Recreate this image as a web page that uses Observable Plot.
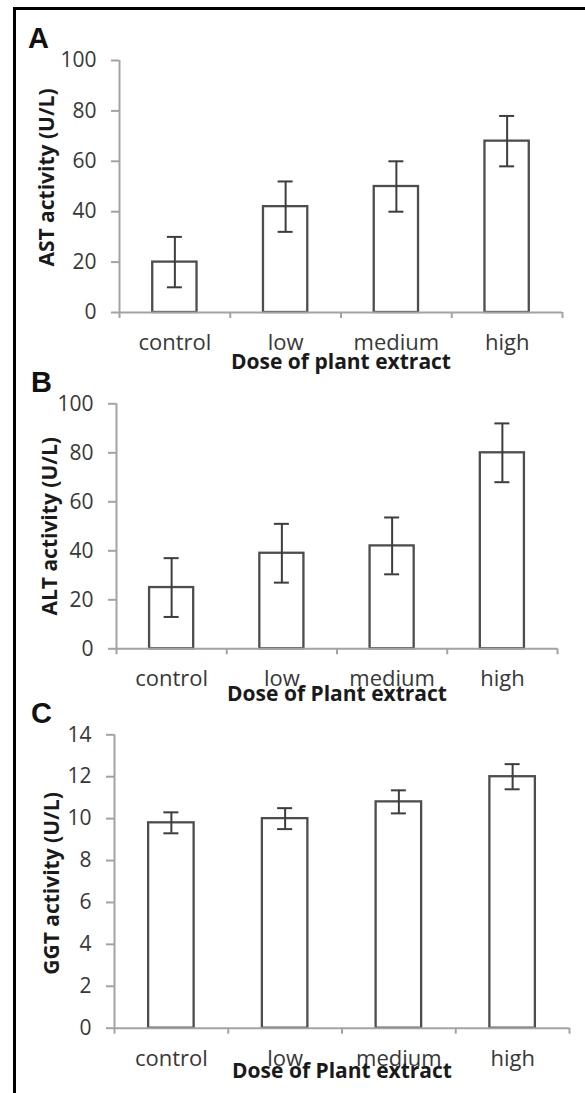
<!DOCTYPE html>
<html>
<head>
<meta charset="utf-8">
<script src="https://cdn.jsdelivr.net/npm/d3@7"></script>
<script src="https://cdn.jsdelivr.net/npm/@observablehq/plot@0.6"></script>
<style>
html, body { margin: 0; padding: 0; background: #fff; }
#page { position: relative; width: 585px; height: 1093px; overflow: hidden; font-family: "Open Sans", sans-serif; }
#border { position: absolute; left: 13px; top: 7px; right: 0; bottom: 0; border-top: 3px solid #000; border-left: 3px solid #000; }
.letter { position: absolute; font-family: "Liberation Sans", Arial, sans-serif; font-weight: bold; font-size: 29px; line-height: 1; color: #111; }
</style>
</head>
<body>
<div id="page"><div id="border"></div></div>
<script>
// ---- Data ----
const doses = ["control", "low", "medium", "high"];
const astMean = [20, 42, 50, 68];
const astErr = [10, 10, 10, 10];
const altMean = [25, 39, 42, 80];
const altErr = [12, 12, 11.6, 12];
const ggtMean = [9.8, 10, 10.8, 12];
const ggtErr = [0.5, 0.5, 0.55, 0.6];
const astTicks = [0, 20, 40, 60, 80, 100];
const altTicks = [0, 20, 40, 60, 80, 100];
const ggtTicks = [0, 2, 4, 6, 8, 10, 12, 14];
const panelLetters = ["A", "B", "C"];
const yTitles = ["AST activity (U/L)", "ALT activity (U/L)", "GGT activity (U/L)"];
const xTitles = ["Dose of plant extract", "Dose of Plant extract", "Dose of Plant extract"];

// ---- Layout ----
const W = 585;
const layouts = [
  {top: 0,   height: 380, ml: 119, mr: 23, mt: 60,   mb: 68,   yDx: -72, yDy: -9, xDy: 56, lTop: 24,  lLeft: 28},
  {top: 372, height: 340, ml: 116, mr: 28, mt: 31.3, mb: 63.7, yDx: -66, yDy: 0,  xDy: 52, lTop: 368, lLeft: 31},
  {top: 700, height: 393, ml: 114, mr: 16, mt: 34.3, mb: 65.3, yDx: -62, yDy: 2,  xDy: 50, lTop: 699, lLeft: 31}
];
const series = [
  {mean: astMean, err: astErr, ticks: astTicks},
  {mean: altMean, err: altErr, ticks: altTicks},
  {mean: ggtMean, err: ggtErr, ticks: ggtTicks}
];

const axisGray = "#a3a3a3";
const barStroke = "#4d4d4d";
const errStroke = "#3d3d3d";
const labelColor = "#383838";
const page = document.getElementById("page");

series.forEach((s, k) => {
  const L = layouts[k];
  const rows = doses.map((d, i) => ({dose: d, mean: s.mean[i], err: s.err[i]}));
  const yMax = s.ticks[s.ticks.length - 1];
  const bw = (W - L.ml - L.mr) / doses.length;
  const barInset = bw * 0.3;
  const capInset = (bw - 15) / 2;

  const svg = Plot.plot({
    width: W,
    height: L.height,
    marginLeft: L.ml,
    marginRight: L.mr,
    marginTop: L.mt,
    marginBottom: L.mb,
    style: {fontFamily: "'Open Sans', sans-serif", fontSize: "21px", color: labelColor, background: "transparent", overflow: "visible"},
    x: {domain: doses, padding: 0, round: false, label: null},
    y: {domain: [0, yMax], label: null},
    marks: [
      Plot.barY(rows, {x: "dose", y: "mean", fill: "white", stroke: barStroke, strokeWidth: 2.3, insetLeft: barInset, insetRight: barInset}),
      Plot.ruleX(rows, {x: "dose", y1: d => d.mean - d.err, y2: d => d.mean + d.err, stroke: errStroke, strokeWidth: 2}),
      Plot.tickY(rows, {x: "dose", y: d => d.mean + d.err, stroke: errStroke, strokeWidth: 2, insetLeft: capInset, insetRight: capInset}),
      Plot.tickY(rows, {x: "dose", y: d => d.mean - d.err, stroke: errStroke, strokeWidth: 2, insetLeft: capInset, insetRight: capInset}),
      // axis lines
      Plot.ruleY([0], {stroke: axisGray, strokeWidth: 2}),
      Plot.ruleX([doses[0]], {dx: -bw / 2, y1: 0, y2: yMax, stroke: axisGray, strokeWidth: 2}),
      // y axis ticks + labels
      Plot.axisY({ticks: s.ticks, tickSize: 8, tickPadding: 15, stroke: axisGray, strokeWidth: 2, fontSize: 21, fill: labelColor, label: null}),
      // x boundary ticks
      Plot.axisX({ticks: doses, tickSize: 6, dx: -bw / 2, tickFormat: () => "", stroke: axisGray, strokeWidth: 2, label: null}),
      Plot.axisX({ticks: [doses[doses.length - 1]], tickSize: 6, dx: bw / 2, tickFormat: () => "", stroke: axisGray, strokeWidth: 2, label: null}),
      // x category labels
      Plot.axisX({ticks: doses, tickSize: 0, tickPadding: 22, fontSize: 22, fill: labelColor, label: null}),
      // axis titles
      Plot.text([yTitles[k]], {text: d => d, frameAnchor: "left", textAnchor: "middle", lineAnchor: "middle", dx: L.yDx, dy: L.yDy, rotate: -90, fontWeight: "bold", fontSize: 21, fill: "#1a1a1a"}),
      Plot.text([xTitles[k]], {text: d => d, frameAnchor: "bottom", textAnchor: "middle", dy: L.xDy, lineAnchor: "bottom", fontWeight: "bold", fontSize: 21, fill: "#1a1a1a"})
    ]
  });
  svg.style.position = "absolute";
  svg.style.left = "0px";
  svg.style.top = L.top + "px";
  page.appendChild(svg);

  const letter = document.createElement("div");
  letter.className = "letter";
  letter.textContent = panelLetters[k];
  letter.style.left = L.lLeft + "px";
  letter.style.top = L.lTop + "px";
  page.appendChild(letter);
});
</script>
</body>
</html>
